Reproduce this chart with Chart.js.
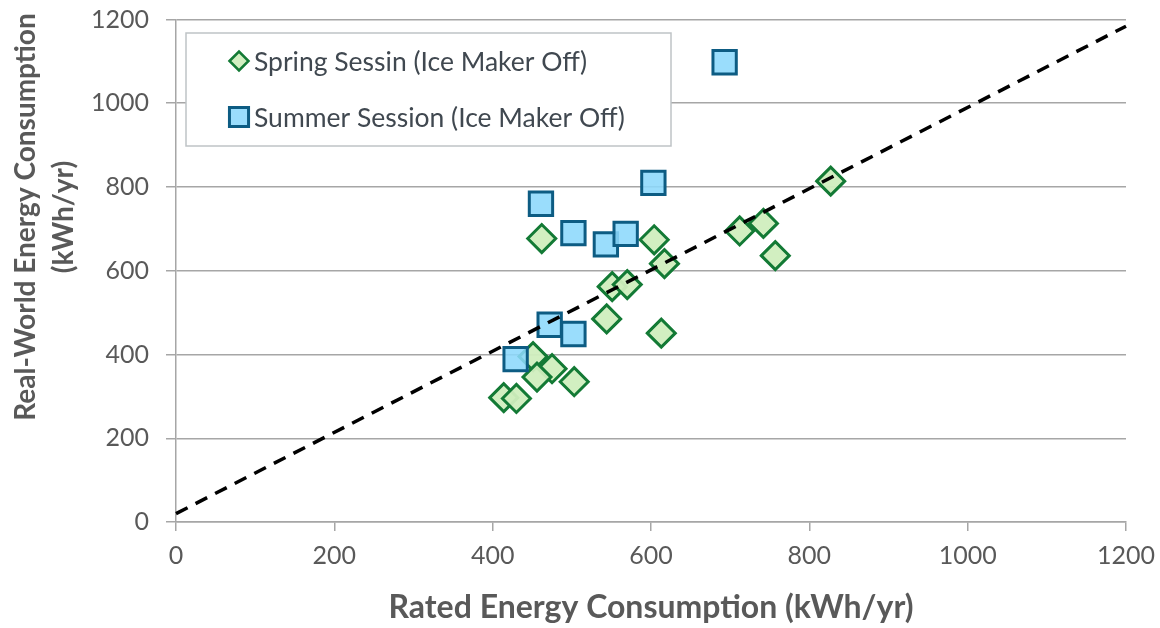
<!DOCTYPE html>
<html>
<head>
<meta charset="utf-8">
<script src="https://cdn.jsdelivr.net/npm/chart.js@4.4.1/dist/chart.umd.min.js"></script>
<style>
  html, body { margin: 0; padding: 0; background: #ffffff; }
  #wrap { width: 1160px; height: 628px; position: relative; }
</style>
</head>
<body>
<div id="wrap"><canvas id="c" width="1160" height="628"></canvas></div>
<script>
// ---- Data ----
const springLabel = 'Spring Sessin (Ice Maker Off)';
const springRated = [462, 604, 617, 551, 570, 544, 613, 451, 475, 456, 503, 414, 430, 827, 712, 742, 757];
const springReal  = [677, 674, 617, 562, 567, 485, 451, 395, 366, 346, 335, 297, 295, 814, 695, 713, 636];

const summerLabel = 'Summer Session (Ice Maker Off)';
const summerRated = [429, 472, 502, 461, 502, 543, 568, 603, 693];
const summerReal  = [389, 471, 449, 760, 690, 663, 688, 810, 1098];

const trendRated = [0, 1200];
const trendReal  = [20, 1184];

const xTicks = [0, 200, 400, 600, 800, 1000, 1200];
const yTicks = [0, 200, 400, 600, 800, 1000, 1200];

const xTitle = 'Rated Energy Consumption (kWh/yr)';
const yTitleLines = ['Real-World Energy Consumption', '(kWh/yr)'];
const legendOrder = [springLabel, summerLabel];

// ---- helpers ----
const toPts = (xs, ys) => xs.map((x, i) => ({ x: x, y: ys[i] }));
const TEXT = '#595959';
const GRID = '#A6A6A6';

const legendPlugin = {
  id: 'insideLegend',
  afterDraw(chart) {
    const ctx = chart.ctx;
    ctx.save();
    // box
    ctx.fillStyle = '#ffffff';
    ctx.strokeStyle = '#BFC3C6';
    ctx.lineWidth = 1.5;
    ctx.fillRect(186, 33, 485, 113);
    ctx.strokeRect(186, 33, 485, 113);
    const rows = [61, 117];
    legendOrder.forEach((lbl, i) => {
      const ds = chart.data.datasets.find(d => d.label === lbl);
      const y = rows[i];
      const opts = {
        pointStyle: ds.pointStyle,
        radius: ds.legendRadius,
        rotation: 0,
        borderWidth: ds.legendBorder
      };
      ctx.fillStyle = ds.backgroundColor;
      ctx.strokeStyle = ds.borderColor;
      ctx.lineWidth = ds.legendBorder;
      Chart.helpers.drawPoint(ctx, opts, 239, y);
      ctx.fillStyle = '#404850';
      ctx.font = '26.5px Lato';
      ctx.textAlign = 'left';
      ctx.textBaseline = 'middle';
      ctx.fillText(ds.label, 254, y + 1);
    });
    // y axis title
    ctx.fillStyle = TEXT;
    ctx.font = 'bold 28px Lato';
    ctx.textAlign = 'center';
    ctx.textBaseline = 'middle';
    const cy = 217;
    const xs = [26, 64];
    yTitleLines.forEach((t, i) => {
      ctx.save();
      ctx.translate(xs[i], cy);
      ctx.rotate(-Math.PI / 2);
      ctx.fillText(t, 0, 0);
      ctx.restore();
    });
    ctx.restore();
  }
};

const chart = new Chart(document.getElementById('c'), {
  type: 'scatter',
  data: {
    datasets: [
      {
        label: 'trend',
        type: 'line',
        data: toPts(trendRated, trendReal),
        borderColor: '#000000',
        borderWidth: 3.5,
        borderDash: [13, 9],
        pointRadius: 0,
        fill: false,
        clip: false,
        order: 0
      },
      {
        label: summerLabel,
        data: toPts(summerRated, summerReal),
        pointStyle: 'rect',
        pointRadius: 16.5,
        pointHoverRadius: 16.5,
        borderWidth: 3,
        borderColor: '#0D5C83',
        backgroundColor: 'rgba(140,216,252,0.88)',
        legendRadius: 13.5,
        legendBorder: 3,
        order: 1
      },
      {
        label: springLabel,
        data: toPts(springRated, springReal),
        pointStyle: 'rectRot',
        pointRadius: 14,
        pointHoverRadius: 14,
        borderWidth: 3,
        borderColor: '#137A35',
        backgroundColor: 'rgba(208,238,190,0.95)',
        legendRadius: 9.5,
        legendBorder: 2.5,
        order: 2
      }
    ]
  },
  options: {
    responsive: false,
    animation: false,
    devicePixelRatio: 1,
    layout: { padding: { left: 0, top: 17, right: 34, bottom: 0 } },
    plugins: {
      legend: { display: false },
      tooltip: { enabled: false }
    },
    scales: {
      x: {
        type: 'linear',
        min: 0,
        max: 1200,
        afterBuildTicks: (s) => { s.ticks = xTicks.map(v => ({ value: v })); },
        afterFit: (s) => { s.height = 106; s.paddingLeft = 0; s.paddingRight = 0; },
        grid: { drawOnChartArea: false, drawTicks: true, tickLength: 9, color: GRID, lineWidth: 1.5 },
        border: { display: true, color: GRID, width: 1.5 },
        ticks: { color: TEXT, font: { family: 'Lato', size: 25 }, padding: 10, maxRotation: 0, callback: (v) => String(v) },
        title: { display: true, text: xTitle, color: TEXT, font: { family: 'Lato', size: 32, weight: 'bold' }, padding: { top: 0, bottom: 1 } }
      },
      y: {
        type: 'linear',
        min: 0,
        max: 1200,
        afterBuildTicks: (s) => { s.ticks = yTicks.map(v => ({ value: v })); },
        afterFit: (s) => { s.width = 176; s.paddingTop = 0; s.paddingBottom = 0; },
        grid: { drawTicks: true, tickLength: 10, color: GRID, lineWidth: 1.5 },
        border: { display: true, color: GRID, width: 1.5 },
        ticks: { color: TEXT, font: { family: 'Lato', size: 25 }, padding: 17, callback: (v) => String(v) }
      }
    }
  },
  plugins: [legendPlugin]
});
</script>
</body>
</html>
